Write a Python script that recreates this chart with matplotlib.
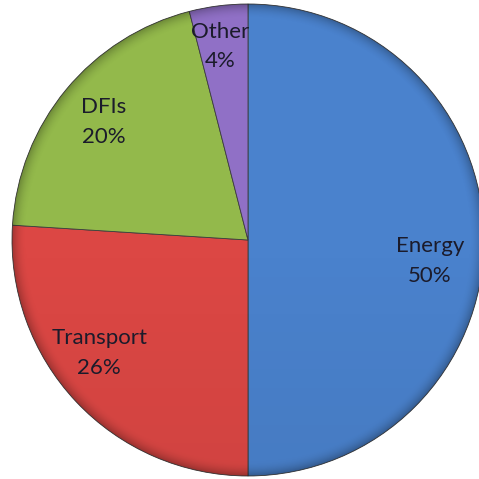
import matplotlib
matplotlib.use("Agg")
import matplotlib.pyplot as plt
import matplotlib.patches as patches
import numpy as np

# chart data
categories = ["Energy", "Transport", "DFIs", "Other"]
shares = [50, 26, 20, 4]
colors = ["#4a82cd", "#dc4744", "#93b94b", "#9070c6"]

# label centres (axes units, pie radius = 1)
label_pos = [(0.77, -0.09), (-0.63, -0.48), (-0.61, 0.50), (-0.12, 0.82)]

W, H = 479, 479
fig = plt.figure(figsize=(W / 100, H / 100), dpi=100)
fig.patch.set_facecolor("white")

# pie centre and radius in pixels
cx, cy, r = 248, 240, 236
ax = fig.add_axes([(cx - r) / W, (H - cy - r) / H, 2 * r / W, 2 * r / H])

labels = [f"{c}\n{v}%" for c, v in zip(categories, shares)]
wedges, texts = ax.pie(
    shares, labels=labels, colors=colors, startangle=90, counterclock=False,
    labeldistance=0.78, radius=1.0,
    wedgeprops=dict(edgecolor="#3c3c3c", linewidth=0.6),
    textprops=dict(fontsize=16, color="#1b1b2b", family=["Lato", "DejaVu Sans"],
                   linespacing=1.6),
)
for t, p in zip(texts, label_pos):
    t.set_horizontalalignment("center")
    t.set_verticalalignment("center")
    t.set_position(p)
    t.set_zorder(5)

# soft rim shading, a bit like the office bevel look
n = 400
g = np.linspace(-1, 1, n)
xx, yy = np.meshgrid(g, g)
rr = np.hypot(xx, yy)
shade = np.zeros((n, n, 4))
alpha = np.clip((rr - 0.94) / 0.06, 0, 1) ** 2 * 0.25
alpha += np.clip(-yy, 0, 1) * 0.05
shade[..., 3] = np.clip(alpha, 0, 1)
im = ax.imshow(shade, extent=(-1, 1, -1, 1), origin="lower", zorder=3,
               interpolation="bilinear")
im.set_clip_path(patches.Circle((0, 0), 1.0, transform=ax.transData))

ax.set_xlim(-1, 1)
ax.set_ylim(-1, 1)
ax.set_aspect("equal")
ax.axis("off")

fig.savefig("out.png", dpi=100, facecolor="white")
